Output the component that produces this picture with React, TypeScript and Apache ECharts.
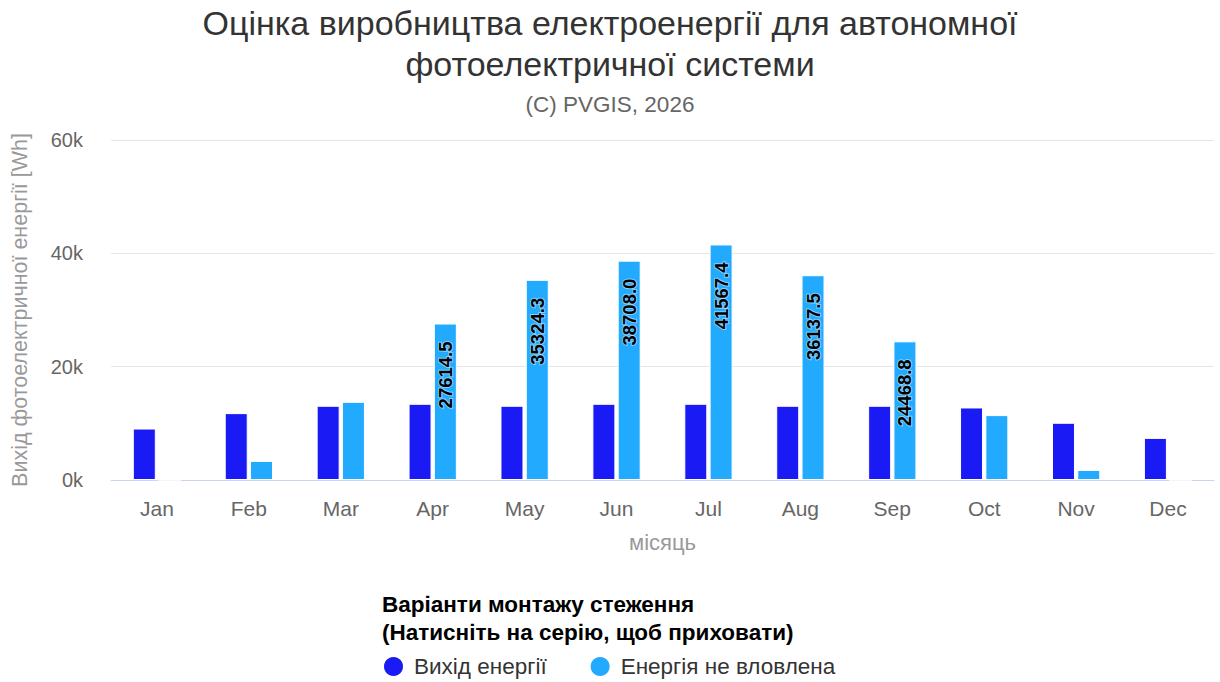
import React, { useEffect, useRef } from "react";
import * as echarts from "echarts";

const months = ["Jan", "Feb", "Mar", "Apr", "May", "Jun", "Jul", "Aug", "Sep", "Oct", "Nov", "Dec"];
const energyOutput = [9080, 11800, 13100, 13450, 13100, 13450, 13450, 13100, 13100, 12800, 10100, 7430];
const energyNotCaptured = [0, 3360, 13800, 27614.5, 35324.3, 38708.0, 41567.4, 36137.5, 24468.8, 11450, 1770, 0];
const labelledMonths = ["Apr", "May", "Jun", "Jul", "Aug", "Sep"];
const yTicks = [0, 20000, 40000, 60000];

const FONT = "'Liberation Sans', Arial, Helvetica, sans-serif";

export default function App() {
  const ref = useRef<HTMLDivElement>(null);
  useEffect(() => {
    document.body.style.margin = "0";
    if (!ref.current) return;
    const chart = echarts.init(ref.current, undefined, { renderer: "svg" });
    chart.setOption({
      animation: false,
      textStyle: { fontFamily: FONT },
      title: [
        {
          text: "Оцінка виробництва електроенергії для автономної\nфотоелектричної системи",
          left: "center",
          top: 2,
          padding: 0,
          textStyle: { fontSize: 34, fontWeight: "normal", color: "#333333", lineHeight: 41, fontFamily: FONT },
        },
        {
          text: "(C) PVGIS, 2026",
          left: "center",
          top: 91,
          padding: 0,
          textStyle: { fontSize: 22.5, fontWeight: "normal", color: "#666666", lineHeight: 26, fontFamily: FONT },
        },
      ],
      grid: { left: 111, right: 6, top: 140, bottom: 202, containLabel: false },
      legend: {
        left: 382,
        top: 655,
        padding: 0,
        icon: "circle",
        itemWidth: 21,
        itemHeight: 21,
        itemGap: 42,
        textStyle: { fontSize: 22.5, color: "#333333", fontFamily: FONT, padding: [0, 0, 0, 5] },
        data: ["Вихід енергії", "Енергія не вловлена"],
      },
      graphic: [
        {
          type: "text",
          left: 382,
          top: 590,
          style: {
            text: "Варіанти монтажу стеження\n(Натисніть на серію, щоб приховати)",
            font: `bold 22.5px ${FONT}`,
            lineHeight: 28,
            fill: "#000000",
          },
        },
      ],
      xAxis: {
        type: "category",
        data: months,
        boundaryGap: true,
        name: "місяць",
        nameLocation: "middle",
        nameGap: 51,
        nameTextStyle: { fontSize: 22, color: "#999999", fontFamily: FONT },
        axisLine: { lineStyle: { color: "#ccd6eb", width: 1 } },
        axisTick: { length: 17, lineStyle: { color: "#ccd6eb" } },
        axisLabel: { fontSize: 21, color: "#666666", margin: 18, fontFamily: FONT },
      },
      yAxis: {
        type: "value",
        min: yTicks[0],
        max: yTicks[yTicks.length - 1],
        interval: yTicks[1] - yTicks[0],
        name: "Вихід фотоелектричної енергії [Wh]",
        nameLocation: "middle",
        nameGap: 80,
        nameRotate: 90,
        nameTextStyle: { fontSize: 21.5, color: "#999999", fontFamily: FONT },
        axisLine: { show: false },
        axisTick: { show: false },
        axisLabel: {
          fontSize: 20,
          color: "#666666",
          margin: 28,
          fontFamily: FONT,
          formatter: (v: number) => `${v / 1000}k`,
        },
        splitLine: { lineStyle: { color: "#e6e6e6", width: 1 } },
      },
      series: [
        {
          name: "Вихід енергії",
          type: "bar",
          data: energyOutput,
          barWidth: 23,
          barGap: "10%",
          itemStyle: { color: "#1a1af5", borderColor: "#ffffff", borderWidth: 1 },
        },
        {
          name: "Енергія не вловлена",
          type: "bar",
          barWidth: 23,
          barGap: "10%",
          itemStyle: { color: "#22aaff", borderColor: "#ffffff", borderWidth: 1 },
          data: energyNotCaptured.map((v, i) => ({
            value: v,
            label: { show: labelledMonths.includes(months[i]) },
          })),
          label: {
            show: false,
            position: "insideTop",
            distance: 18,
            rotate: 90,
            align: "right",
            verticalAlign: "middle",
            fontSize: 18.5,
            fontWeight: "bold",
            color: "#000000",
            fontFamily: FONT,
            textBorderColor: "rgba(255,255,255,0.45)",
            textBorderWidth: 2,
            formatter: (p: any) => Number(p.value).toFixed(1),
          },
        },
      ],
    });
    return () => chart.dispose();
  }, []);
  return <div ref={ref} style={{ width: 1220, height: 682 }} />;
}
